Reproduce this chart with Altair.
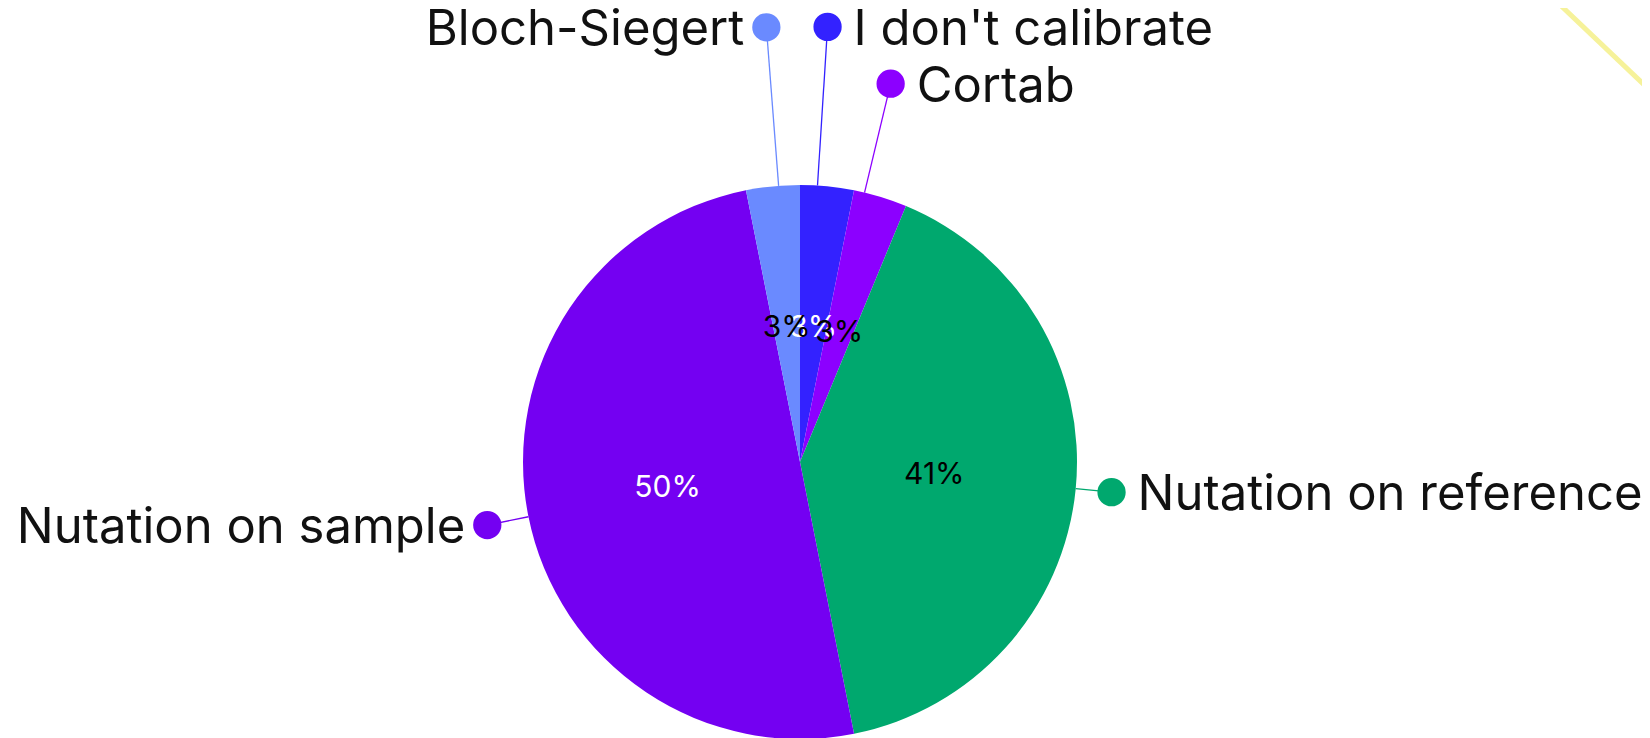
import altair as alt
import pandas as pd

# ---- data (clockwise from 12 o'clock) ----
categories = ["I don't calibrate", "Cortab", "Nutation on reference", "Nutation on sample", "Bloch-Siegert"]
counts = [1, 1, 13, 16, 1]

# ---- styling / layout ----
colors = ["#3322ff", "#8c00ff", "#00a86e", "#7400f2", "#6a8aff"]
pct_text_colors = ["white", "black", "black", "white", "black"]
label_radius = [436, 389, 313, 319, 436]
label_angle_shift = [-2.0, -3.4, -0.1, -0.15, 1.2]
right_side = ["I don't calibrate", "Cortab", "Nutation on reference"]
left_side = ["Nutation on sample", "Bloch-Siegert"]

W, H = 1634, 730
CX, CY, R = 792, 454, 277
FONT = "Inter"
LABEL_SIZE = 49

df = pd.DataFrame({
    "category": categories,
    "count": counts,
    "idx": list(range(len(categories))),
    "lr": label_radius,
    "shift": label_angle_shift,
    "tcol": pct_text_colors,
})

color_scale = alt.Scale(domain=categories, range=colors)
col = alt.Color("category:N", scale=color_scale, legend=None)

base = alt.Chart(df)

pie = base.mark_arc(radius=R).encode(
    theta=alt.Theta("count:Q", stack=True),
    color=col,
    order=alt.Order("idx:Q"),
    x=alt.value(CX),
    y=alt.value(CY),
)

pct = base.transform_joinaggregate(
    total="sum(count)"
).transform_calculate(
    pct="format(datum.count / datum.total, '.0%')"
).mark_text(radius=135, font=FONT, fontSize=30, baseline="middle").encode(
    theta=alt.Theta("count:Q", stack=True),
    detail="category:N",
    order=alt.Order("idx:Q"),
    text="pct:N",
    color=alt.Color("tcol:N", scale=None),
    x=alt.value(CX),
    y=alt.value(CY),
)

geo = base.transform_window(
    cum="sum(count)", sort=[alt.SortField("idx")]
).transform_joinaggregate(
    total="sum(count)"
).transform_calculate(
    a="((datum.cum - datum.count / 2) / datum.total * 360 + datum.shift) * PI / 180"
).transform_calculate(
    ex=f"{CX} + {R} * sin(datum.a)",
    ey=f"{CY} - {R} * cos(datum.a)",
    lx=f"{CX} + datum.lr * sin(datum.a)",
    ly=f"{CY} - datum.lr * cos(datum.a)",
)

leaders = geo.mark_rule(strokeWidth=1.3).encode(
    x=alt.X("ex:Q", scale=None),
    y=alt.Y("ey:Q", scale=None),
    x2="lx:Q",
    y2="ly:Q",
    color=col,
)

dots = geo.mark_circle(size=800, opacity=1).encode(
    x=alt.X("lx:Q", scale=None),
    y=alt.Y("ly:Q", scale=None),
    color=col,
)

labels_r = geo.transform_filter(
    alt.FieldOneOfPredicate(field="category", oneOf=right_side)
).mark_text(align="left", dx=26, dy=3, font=FONT, fontSize=LABEL_SIZE, baseline="middle", color="#111111").encode(
    x=alt.X("lx:Q", scale=None),
    y=alt.Y("ly:Q", scale=None),
    text="category:N",
)

labels_l = geo.transform_filter(
    alt.FieldOneOfPredicate(field="category", oneOf=left_side)
).mark_text(align="right", dx=-22, dy=3, font=FONT, fontSize=LABEL_SIZE, baseline="middle", color="#111111").encode(
    x=alt.X("lx:Q", scale=None),
    y=alt.Y("ly:Q", scale=None),
    text="category:N",
)

deco = alt.Chart(pd.DataFrame({"k": [0]})).mark_rule(color="#f6f29a", strokeWidth=5).encode(
    x=alt.value(1547), y=alt.value(-8), x2=alt.value(1650), y2=alt.value(90)
)

chart = alt.layer(pie, leaders, dots, pct, labels_r, labels_l, deco).properties(
    width=W, height=H, padding=0, autosize=alt.AutoSizeParams(type="none"),
    background="white",
).configure_view(stroke=None)

chart.save("out.html", embed_options={"renderer": "svg", "actions": False})
